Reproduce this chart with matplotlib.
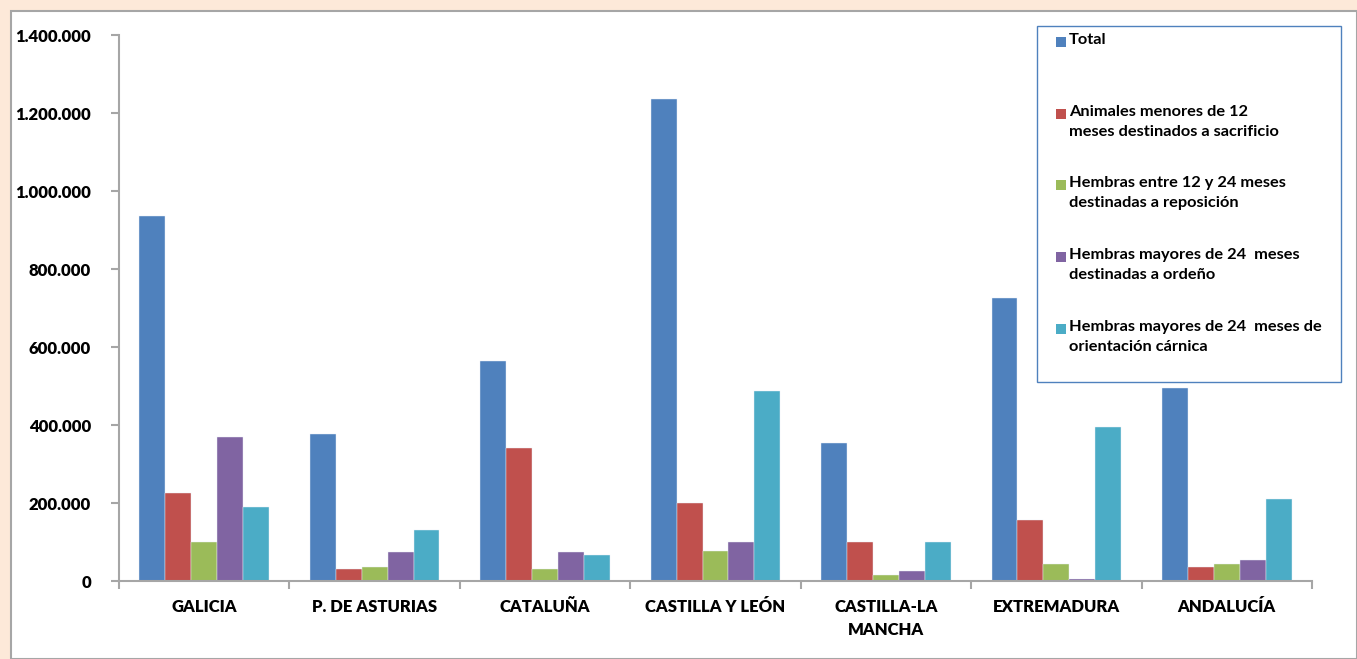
import matplotlib
matplotlib.use("Agg")
import matplotlib.pyplot as plt
from matplotlib.patches import Rectangle
import numpy as np

plt.rcParams['font.family'] = ['Lato', 'DejaVu Sans']

regions = ["GALICIA", "P. DE ASTURIAS", "CATALUÑA", "CASTILLA Y LEÓN",
           "CASTILLA-LA\nMANCHA", "EXTREMADURA", "ANDALUCÍA"]
series_names = ["Total",
                "Animales menores de 12\nmeses destinados a sacrificio",
                "Hembras entre 12 y 24 meses\ndestinadas a reposición",
                "Hembras mayores de 24  meses\ndestinadas a ordeño",
                "Hembras mayores de 24  meses de\norientación cárnica"]
total = [936000, 377000, 564000, 1236000, 355000, 726000, 495000]
menores12 = [225000, 31000, 342000, 201000, 99000, 156000, 36000]
reposicion = [100000, 37000, 30000, 77000, 15000, 43000, 43000]
ordeno = [369000, 74000, 74000, 99000, 26000, 5000, 55000]
carnica = [190000, 131000, 67000, 487000, 99000, 396000, 211000]
yticks = [0, 200000, 400000, 600000, 800000, 1000000, 1200000, 1400000]
ytick_labels = ["0", "200.000", "400.000", "600.000", "800.000",
                "1.000.000", "1.200.000", "1.400.000"]

colors = ["#4F81BD", "#C0504D", "#9BBB59", "#8064A2", "#4BACC6"]
data = [total, menores12, reposicion, ordeno, carnica]

W, H = 1357, 659
fig = plt.figure(figsize=(W / 100, H / 100), dpi=100)
fig.patch.set_facecolor("#FDE9D9")

# white chart frame
frame = Rectangle((11 / W, 0), 1 - 11 / W, 1 - 11 / H, transform=fig.transFigure,
                  facecolor="white", edgecolor="#A6A6A6", linewidth=1.5, zorder=-2)
fig.patches.append(frame)

ax = fig.add_axes([119 / W, 1 - 581 / H, (1312 - 119) / W, (581 - 35) / H])
ax.set_facecolor("none")
ax.set_zorder(0)

x = np.arange(len(regions))
bw = 0.152
for i, (vals, col) in enumerate(zip(data, colors)):
    ax.bar(x + (i - 2) * bw, vals, width=bw, color=col, edgecolor="#EAF0F8",
           linewidth=0.3, zorder=2)

ax.set_xlim(-0.5, len(regions) - 0.5)
ax.set_ylim(0, 1400000)
ax.set_yticks(yticks)
ax.set_yticklabels(ytick_labels, fontsize=12, fontweight="heavy")
ax.set_xticks(x)
ax.set_xticklabels(regions, fontsize=12, fontweight="heavy", linespacing=1.5)
ax.tick_params(axis="x", length=0, pad=13)
ax.set_xticks(np.arange(len(regions) + 1) - 0.5, minor=True)
ax.tick_params(axis="x", which="minor", length=6, color="#A6A6A6", width=1.5)
ax.tick_params(axis="y", length=6, color="#A6A6A6", width=1.5, pad=14)
for s in ["top", "right"]:
    ax.spines[s].set_visible(False)
for s in ["left", "bottom"]:
    ax.spines[s].set_color("#A6A6A6")
    ax.spines[s].set_linewidth(1.5)

# legend box
lx0, ly0, lx1, ly1 = 1037, 26, 1341, 382
fig.patches.append(Rectangle((lx0 / W, 1 - ly1 / H), (lx1 - lx0) / W, (ly1 - ly0) / H,
                             transform=fig.transFigure, facecolor="white",
                             edgecolor="#4F81BD", linewidth=1.0, zorder=1))
slot_tops = [33, 105, 176, 248, 320]
for name, col, ty in zip(series_names, colors, slot_tops):
    fig.patches.append(Rectangle((1056 / W, 1 - (ty + 14) / H), 10 / W, 10 / H,
                                 transform=fig.transFigure, facecolor=col,
                                 edgecolor="none", zorder=2))
    fig.text(1069 / W, 1 - ty / H, name, fontsize=11.8, fontweight="bold",
             va="top", ha="left", linespacing=1.55, zorder=3)

fig.savefig("out.png", dpi=100, facecolor=fig.get_facecolor())
